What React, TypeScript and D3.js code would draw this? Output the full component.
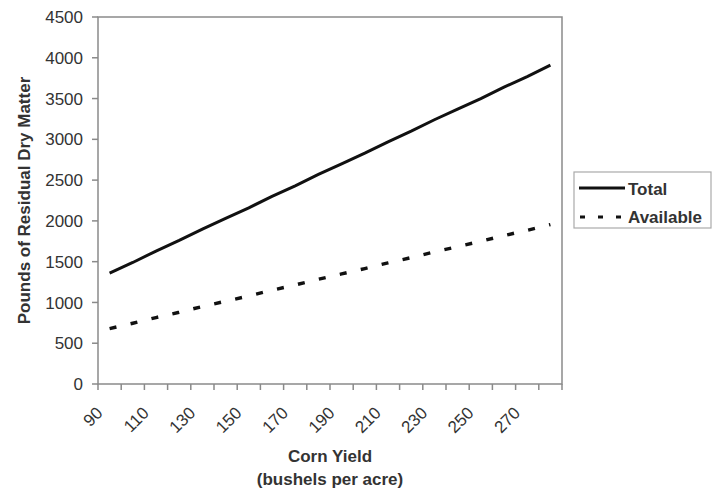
import React from "react";
import * as d3 from "d3";

const yields = [90, 100, 110, 120, 130, 140, 150, 160, 170, 180, 190, 200, 210, 220, 230, 240, 250, 260, 270, 280];
const totalValues = [1360, 1490, 1630, 1760, 1900, 2030, 2160, 2300, 2430, 2570, 2700, 2830, 2970, 3100, 3240, 3370, 3500, 3640, 3770, 3910];
const availableValues = [680, 745, 815, 880, 950, 1015, 1080, 1150, 1215, 1285, 1350, 1415, 1485, 1550, 1620, 1685, 1750, 1820, 1885, 1955];
const yTicks = [0, 500, 1000, 1500, 2000, 2500, 3000, 3500, 4000, 4500];
const xLabelYields = [90, 110, 130, 150, 170, 190, 210, 230, 250, 270];
const seriesNames = ["Total", "Available"];

const W = 719;
const H = 489;
const M = { left: 98, right: 562, top: 17, bottom: 384 };
const FONT = "'Liberation Sans', Arial, sans-serif";
const AXIS = "#8a8a8a";
const TEXT = "#333";

export default function App() {
  const x = d3.scaleBand<number>().domain(yields).range([M.left, M.right]).padding(0);
  const y = d3.scaleLinear().domain([0, 4500]).range([M.bottom, M.top]);
  const cx = (v: number) => (x(v) as number) + x.bandwidth() / 2;
  const line = d3
    .line<number>()
    .x((_, i) => cx(yields[i]))
    .y((d) => y(d));

  const boundaries = d3.range(yields.length + 1).map((i) => M.left + i * x.bandwidth());

  return (
    <svg
      width={W}
      height={H}
      style={{ position: "absolute", left: 0, top: 0, background: "#fff" }}
      fontFamily={FONT}
    >
      <rect x={0} y={0} width={W} height={H} fill="#fff" />
      {/* plot frame */}
      <rect
        x={M.left}
        y={M.top}
        width={M.right - M.left}
        height={M.bottom - M.top}
        fill="none"
        stroke={AXIS}
        strokeWidth={1.5}
      />
      {/* y ticks */}
      {yTicks.map((t) => (
        <g key={"y" + t}>
          <line x1={M.left - 6} x2={M.left} y1={y(t)} y2={y(t)} stroke={AXIS} strokeWidth={1.5} />
          <text x={83} y={y(t)} dy="0.36em" textAnchor="end" fontSize={17} fill={TEXT}>
            {t}
          </text>
        </g>
      ))}
      {/* x ticks */}
      {boundaries.map((b, i) => (
        <line key={"xt" + i} x1={b} x2={b} y1={M.bottom} y2={M.bottom + 6} stroke={AXIS} strokeWidth={1.5} />
      ))}
      {xLabelYields.map((v) => (
        <text
          key={"xl" + v}
          transform={`translate(${cx(v) - 6},414) rotate(-45)`}
          textAnchor="end"
          fontSize={17}
          fill={TEXT}
        >
          {v}
        </text>
      ))}
      {/* axis titles */}
      <text
        transform={`translate(30,${(M.top + M.bottom) / 2}) rotate(-90)`}
        textAnchor="middle"
        fontSize={17}
        fontWeight="bold"
        fill={TEXT}
      >
        Pounds of Residual Dry Matter
      </text>
      <text x={(M.left + M.right) / 2} y={462} textAnchor="middle" fontSize={17} fontWeight="bold" fill={TEXT}>
        Corn Yield
      </text>
      <text x={(M.left + M.right) / 2} y={485} textAnchor="middle" fontSize={17} fontWeight="bold" fill={TEXT}>
        (bushels per acre)
      </text>
      {/* series */}
      <path d={line(totalValues) || ""} fill="none" stroke="#111" strokeWidth={3} />
      <path
        d={line(availableValues) || ""}
        fill="none"
        stroke="#111"
        strokeWidth={3.4}
        strokeDasharray="7,14.5"
      />
      {/* legend */}
      <rect x={574} y={172} width={137} height={56} fill="#fff" stroke="#aaa" strokeWidth={1.2} />
      <line x1={579} x2={625} y1={188} y2={188} stroke="#111" strokeWidth={3} />
      <text x={628} y={195} fontSize={17} fontWeight="bold" fill={TEXT}>
        {seriesNames[0]}
      </text>
      <line x1={580} x2={625} y1={217} y2={217} stroke="#111" strokeWidth={3} strokeDasharray="5,13" />
      <text x={628} y={223} fontSize={17} fontWeight="bold" fill={TEXT}>
        {seriesNames[1]}
      </text>
    </svg>
  );
}
